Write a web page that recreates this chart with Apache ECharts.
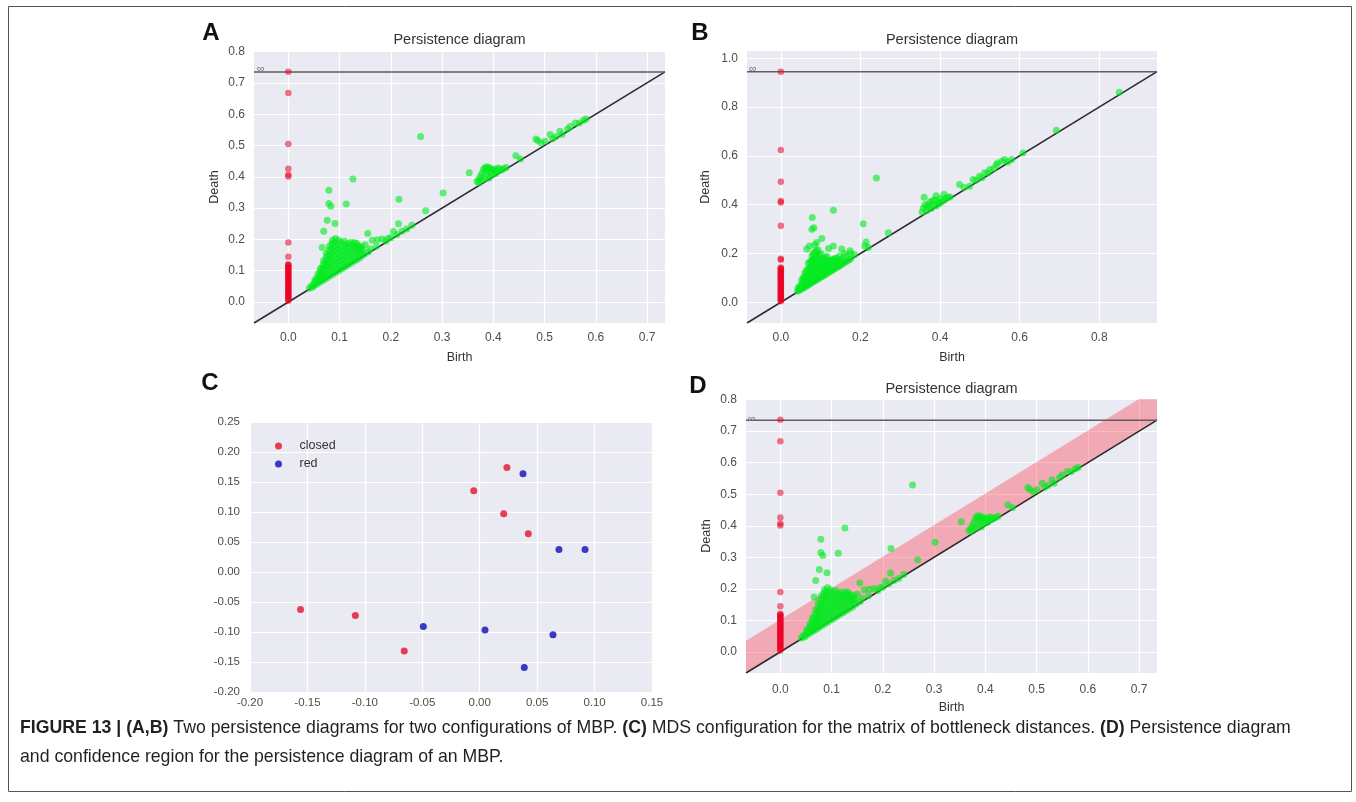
<!DOCTYPE html>
<html>
<head>
<meta charset="utf-8">
<script src="https://cdn.jsdelivr.net/npm/echarts@6/dist/echarts.min.js"></script>
<style>
html,body{margin:0;padding:0;background:#fff;}
#chart{width:1356px;height:802px;}
</style>
</head>
<body>
<div id="chart"></div>
<script>
// ---------- axis limits: [lower, upper(= infinity line), top of y] ----------
const A_limits = [-0.067, 0.735, 0.802];
const B_limits = [-0.085, 0.945, 1.03];
const D_bandWidth = 0.102;

// ---------- tick labels ----------
const A_xTicks = [0.0, 0.1, 0.2, 0.3, 0.4, 0.5, 0.6, 0.7];
const A_yTicks = [0.0, 0.1, 0.2, 0.3, 0.4, 0.5, 0.6, 0.7, 0.8];
const B_xTicks = [0.0, 0.2, 0.4, 0.6, 0.8];
const B_yTicks = [0.0, 0.2, 0.4, 0.6, 0.8, 1.0];
const C_xTicks = [-0.20, -0.15, -0.10, -0.05, 0.00, 0.05, 0.10, 0.15];
const C_yTicks = [-0.20, -0.15, -0.10, -0.05, 0.00, 0.05, 0.10, 0.15, 0.20, 0.25];

// ---------- diagram A / D (same diagram): H0 deaths (birth = 0) ----------
const A_H0 = [0.736, 0.668, 0.505, 0.426, 0.407, 0.401, 0.190, 0.145,
  0.121, 0.118, 0.115, 0.112, 0.108, 0.104, 0.101, 0.097, 0.093, 0.089, 0.086,
  0.082, 0.078, 0.075, 0.071, 0.067, 0.063, 0.060, 0.056, 0.052, 0.048, 0.045,
  0.041, 0.037, 0.033, 0.030, 0.026, 0.022, 0.019, 0.015, 0.011, 0.008, 0.004];

// H1 [birth, death]
const A_H1 = [
  [0.258,0.529],[0.126,0.393],[0.079,0.357],[0.079,0.315],[0.083,0.306],[0.113,0.313],
  [0.302,0.348],[0.216,0.328],[0.268,0.292],[0.076,0.261],[0.091,0.251],[0.069,0.226],
  [0.215,0.250],[0.205,0.225],[0.066,0.174],[0.155,0.219],[0.164,0.197],[0.174,0.199],
  [0.183,0.201],[0.144,0.177],[0.150,0.183],[0.231,0.233],[0.195,0.204],[0.160,0.170],
  [0.172,0.178],[0.190,0.195],[0.200,0.205],[0.148,0.152],[0.156,0.160],[0.212,0.216],
  [0.222,0.226],[0.241,0.245],
  [0.353,0.413],[0.444,0.467],[0.453,0.457],[0.483,0.521],[0.487,0.516],[0.501,0.514],
  [0.511,0.535],[0.516,0.522],[0.530,0.546],[0.534,0.535],[0.550,0.561],[0.560,0.572],
  [0.568,0.572],[0.576,0.581],[0.581,0.585],[0.493,0.508],[0.522,0.528],[0.545,0.553],
  [0.368,0.385],[0.372,0.392],[0.375,0.402],[0.378,0.412],[0.381,0.424],[0.384,0.430],
  [0.386,0.418],[0.389,0.405],[0.392,0.396],[0.390,0.425],[0.395,0.415],[0.398,0.407],
  [0.401,0.420],[0.404,0.410],[0.408,0.418],[0.412,0.420],[0.416,0.423],[0.420,0.426],
  [0.425,0.430],[0.378,0.390],[0.383,0.395],[0.397,0.425],[0.393,0.428],[0.388,0.432],
  [0.372,0.382],[0.410,0.428],[0.405,0.425],
  [0.041,0.044],[0.045,0.052],[0.047,0.047],
  [0.050,0.053],[0.051,0.062],[0.052,0.071],
  [0.055,0.057],[0.056,0.067],[0.057,0.079],[0.058,0.090],
  [0.060,0.062],[0.061,0.073],[0.062,0.086],[0.062,0.099],[0.063,0.108],
  [0.065,0.067],[0.066,0.079],[0.067,0.093],[0.067,0.107],[0.068,0.120],[0.069,0.133],
  [0.070,0.072],[0.071,0.085],[0.072,0.099],[0.072,0.114],[0.073,0.128],[0.074,0.142],[0.074,0.155],
  [0.075,0.077],[0.076,0.090],[0.077,0.105],[0.077,0.120],[0.078,0.135],[0.079,0.150],[0.079,0.165],[0.080,0.178],
  [0.081,0.083],[0.082,0.096],[0.082,0.111],[0.083,0.126],[0.083,0.141],[0.084,0.156],[0.085,0.171],[0.085,0.186],[0.086,0.197],
  [0.087,0.089],[0.088,0.103],[0.088,0.118],[0.089,0.133],[0.089,0.148],[0.090,0.163],[0.091,0.178],[0.090,0.192],[0.092,0.203],
  [0.093,0.095],[0.094,0.109],[0.094,0.124],[0.095,0.139],[0.096,0.154],[0.096,0.169],[0.097,0.184],[0.098,0.197],
  [0.099,0.101],[0.100,0.115],[0.100,0.130],[0.101,0.145],[0.102,0.160],[0.102,0.175],[0.103,0.190],
  [0.105,0.107],[0.106,0.121],[0.106,0.136],[0.107,0.151],[0.108,0.166],[0.109,0.181],[0.109,0.194],
  [0.111,0.113],[0.112,0.127],[0.112,0.142],[0.113,0.157],[0.114,0.172],[0.115,0.186],
  [0.117,0.119],[0.118,0.133],[0.118,0.148],[0.119,0.163],[0.120,0.178],[0.121,0.190],
  [0.123,0.125],[0.124,0.139],[0.124,0.154],[0.125,0.168],[0.126,0.182],
  [0.129,0.131],[0.130,0.145],[0.131,0.160],[0.131,0.174],[0.128,0.190],[0.133,0.188],
  [0.135,0.137],[0.136,0.151],[0.137,0.165],[0.138,0.180],[0.140,0.170],[0.134,0.178],
  [0.141,0.143],[0.142,0.156],[0.145,0.165]
];

// ---------- diagram B ----------
const B_H0 = [0.945, 0.624, 0.494, 0.415, 0.409, 0.314, 0.178, 0.174,
  0.143, 0.139, 0.135, 0.131, 0.127, 0.123, 0.118, 0.114, 0.110, 0.106, 0.101,
  0.097, 0.093, 0.089, 0.084, 0.080, 0.076, 0.072, 0.067, 0.063, 0.059, 0.055,
  0.050, 0.046, 0.042, 0.038, 0.033, 0.029, 0.025, 0.021, 0.016, 0.012, 0.008, 0.004];

const B_H1 = [
  [0.240,0.509],[0.132,0.377],[0.079,0.347],[0.078,0.299],[0.083,0.305],[0.207,0.322],
  [0.103,0.261],[0.132,0.231],[0.153,0.218],[0.174,0.211],[0.214,0.247],[0.211,0.231],
  [0.270,0.285],[0.072,0.231],[0.065,0.218],[0.085,0.235],[0.090,0.245],[0.120,0.220],
  [0.160,0.200],[0.185,0.195],[0.220,0.225],
  [0.850,0.861],[0.692,0.705],[0.608,0.612],[0.562,0.585],[0.541,0.564],[0.525,0.544],
  [0.512,0.531],[0.499,0.517],[0.483,0.503],[0.474,0.476],[0.449,0.483],[0.545,0.571],
  [0.556,0.578],[0.535,0.548],[0.520,0.530],[0.505,0.510],[0.490,0.500],[0.460,0.470],
  [0.570,0.575],[0.580,0.585],
  [0.355,0.370],[0.358,0.385],[0.360,0.430],[0.362,0.400],[0.366,0.375],[0.370,0.390],
  [0.374,0.410],[0.378,0.384],[0.382,0.400],[0.386,0.420],[0.390,0.437],[0.390,0.395],
  [0.395,0.410],[0.400,0.425],[0.404,0.412],[0.410,0.443],[0.410,0.418],[0.415,0.425],
  [0.420,0.430],[0.425,0.432],[0.368,0.398],[0.380,0.415],[0.398,0.404],
  [0.042,0.045],[0.043,0.058],
  [0.050,0.052],[0.051,0.070],[0.052,0.090],
  [0.058,0.060],[0.058,0.080],[0.059,0.100],[0.060,0.120],
  [0.066,0.068],[0.066,0.090],[0.067,0.112],[0.068,0.135],[0.069,0.160],
  [0.074,0.076],[0.074,0.098],[0.075,0.120],[0.076,0.145],[0.077,0.170],[0.078,0.190],
  [0.082,0.084],[0.082,0.105],[0.083,0.130],[0.084,0.155],[0.084,0.180],[0.085,0.205],
  [0.090,0.092],[0.090,0.113],[0.091,0.138],[0.092,0.163],[0.092,0.190],[0.093,0.215],
  [0.098,0.100],[0.098,0.120],[0.099,0.145],[0.100,0.170],[0.101,0.200],
  [0.106,0.108],[0.106,0.130],[0.107,0.155],[0.108,0.180],
  [0.114,0.116],[0.114,0.138],[0.115,0.162],[0.116,0.188],
  [0.122,0.124],[0.122,0.145],[0.123,0.170],
  [0.130,0.132],[0.130,0.152],[0.131,0.175],
  [0.138,0.140],[0.138,0.160],[0.139,0.180],
  [0.146,0.148],[0.146,0.168],[0.147,0.190],
  [0.155,0.157],[0.155,0.178],
  [0.165,0.167],[0.165,0.190],
  [0.175,0.177],[0.176,0.200],
  [0.046,0.050],[0.047,0.064],
  [0.054,0.057],[0.055,0.080],[0.056,0.100],
  [0.062,0.065],[0.062,0.085],[0.063,0.108],[0.064,0.130],
  [0.070,0.073],[0.070,0.095],[0.071,0.118],[0.072,0.142],[0.073,0.165],
  [0.078,0.081],[0.078,0.102],[0.079,0.125],[0.080,0.150],[0.081,0.175],[0.081,0.200],
  [0.086,0.089],[0.086,0.110],[0.087,0.135],[0.088,0.160],[0.088,0.185],[0.089,0.210],
  [0.094,0.097],[0.094,0.118],[0.095,0.142],[0.096,0.168],[0.097,0.195],
  [0.102,0.105],[0.102,0.126],[0.103,0.150],[0.104,0.175],
  [0.110,0.113],[0.110,0.134],[0.111,0.158],[0.112,0.182],
  [0.118,0.121],[0.118,0.142],[0.119,0.166],
  [0.126,0.129],[0.126,0.149],[0.127,0.172],
  [0.134,0.137],[0.134,0.157],[0.135,0.178],
  [0.142,0.145],[0.142,0.165],
  [0.150,0.153],[0.151,0.173],
  [0.160,0.163],[0.170,0.173]
];

// ---------- panel C: MDS configuration ----------
const C_closed = [[0.0237,0.1740],[-0.0052,0.1355],[0.0209,0.0972],[0.0423,0.0638],
  [-0.1560,-0.0623],[-0.1083,-0.0723],[-0.0657,-0.1317]];
const C_red = [[0.0377,0.1638],[0.0690,0.0377],[0.0917,0.0377],[-0.0491,-0.0907],
  [0.0046,-0.0967],[0.0638,-0.1045],[0.0388,-0.1590]];

// ---------- build ----------
const chart = echarts.init(document.getElementById('chart'));
const FONT = '"Liberation Sans", Arial, sans-serif';
const GRIDBG = '#eaeaf2';
const H0_COLOR = 'rgba(235,0,35,0.68)';
const H1_COLOR = 'rgba(0,235,30,0.75)';

function grid(l, t, w, h) {
  return {left: l, top: t, width: w, height: h, show: true, backgroundColor: GRIDBG,
    borderWidth: 0, containLabel: false, outerBoundsMode: 'none'};
}
function valAxis(idx, min, max, ticks, digits, name, isY, opts) {
  opts = opts || {};
  return {
    type: 'value', gridIndex: idx, min: min, max: max,
    name: name || '', nameLocation: 'middle', nameGap: opts.nameGap || 30,
    nameTextStyle: {color: '#333', fontSize: 12.5, fontFamily: FONT},
    axisLine: {show: false},
    axisTick: {show: false, customValues: ticks},
    axisLabel: {customValues: ticks, color: '#4d4d4d', fontSize: opts.fs || 12, fontFamily: FONT,
      margin: opts.margin || 9, formatter: v => v.toFixed(digits)},
    splitLine: {show: true, lineStyle: {color: '#ffffff', width: 1.2}}
  };
}
function diagramSeries(idx, lim, h0, h1) {
  const lo = lim[0], up = lim[1];
  return [
    {type: 'line', xAxisIndex: idx, yAxisIndex: idx, data: [[lo, lo], [up, up]], symbol: 'none',
      lineStyle: {color: '#2a2a2a', width: 1.5}, z: 3, silent: true, animation: false},
    {type: 'line', xAxisIndex: idx, yAxisIndex: idx, data: [[lo, up], [up, up]], symbol: 'none',
      lineStyle: {color: '#5e5e5e', width: 1.5}, z: 3, silent: true, animation: false},
    {type: 'scatter', name: 'H0', xAxisIndex: idx, yAxisIndex: idx, data: h0.map(d => [0, d]),
      symbolSize: 6.5, itemStyle: {color: H0_COLOR}, z: 4, animation: false},
    {type: 'scatter', name: 'H1', xAxisIndex: idx, yAxisIndex: idx, data: h1,
      symbolSize: 7, itemStyle: {color: H1_COLOR}, z: 4, animation: false}
  ];
}

const series = [].concat(
  diagramSeries(0, A_limits, A_H0, A_H1),
  diagramSeries(1, B_limits, B_H0, B_H1),
  [
    {type: 'scatter', name: 'closed', xAxisIndex: 2, yAxisIndex: 2, data: C_closed,
      symbolSize: 7, itemStyle: {color: '#e3122c'}, animation: false},
    {type: 'scatter', name: 'red', xAxisIndex: 2, yAxisIndex: 2, data: C_red,
      symbolSize: 7, itemStyle: {color: '#0c0cb8'}, animation: false}
  ],
  [{
    type: 'custom', xAxisIndex: 3, yAxisIndex: 3, data: [[0]], z: 2, silent: true, clip: true,
    animation: false,
    renderItem: function (params, api) {
      const lo = A_limits[0], up = A_limits[1], top = A_limits[2], w = D_bandWidth;
      const pts = [[lo, lo], [up, up], [up, top], [top - w, top], [lo, lo + w]].map(p => api.coord(p));
      return {type: 'polygon', shape: {points: pts}, style: {fill: 'rgba(255,20,40,0.30)'}};
    }
  }],
  diagramSeries(3, A_limits, A_H0, A_H1)
);

function txt(x, y, text, size, opts) {
  opts = opts || {};
  return {type: 'text', silent: true, z: 100, rotation: opts.rot || 0, x: x, y: y,
    style: {x: 0, y: 0, text: text, fill: opts.color || '#333',
      font: (opts.weight || 'normal') + ' ' + size + 'px ' + FONT,
      align: opts.align || 'center', verticalAlign: 'middle',
      textAlign: opts.align || 'center', textVerticalAlign: 'middle', rich: opts.rich}};
}
const CAP = 17.7;
const capRich = {
  b: {fontWeight: 'bold', fontSize: CAP, fontFamily: FONT, fill: '#231f20', color: '#231f20'},
  r: {fontWeight: 'normal', fontSize: CAP, fontFamily: FONT, fill: '#231f20', color: '#231f20'}
};

const option = {
  backgroundColor: '#ffffff',
  animation: false,
  grid: [grid(254, 51, 411, 272), grid(747, 51, 410, 272), grid(250, 422, 402, 270), grid(746, 399, 411, 274)],
  xAxis: [
    valAxis(0, A_limits[0], A_limits[1], A_xTicks, 1, 'Birth', false, {nameGap: 28}),
    valAxis(1, B_limits[0], B_limits[1], B_xTicks, 1, 'Birth', false, {nameGap: 28}),
    valAxis(2, -0.20, 0.15, C_xTicks, 2, '', false, {margin: 5, fs: 11.5}),
    valAxis(3, A_limits[0], A_limits[1], A_xTicks, 1, 'Birth', false, {nameGap: 28, margin: 11})
  ],
  yAxis: [
    valAxis(0, A_limits[0], A_limits[2], A_yTicks, 1, 'Death', true, {nameGap: 33}),
    valAxis(1, B_limits[0], B_limits[2], B_yTicks, 1, 'Death', true, {nameGap: 35}),
    valAxis(2, -0.20, 0.25, C_yTicks, 2, '', true, {margin: 10, fs: 11.5}),
    valAxis(3, A_limits[0], A_limits[2], A_yTicks, 1, 'Death', true, {nameGap: 33})
  ],
  legend: {
    data: ['closed', 'red'], orient: 'vertical', left: 270, top: 434,
    icon: 'circle', itemWidth: 32, itemHeight: 7, itemGap: 4,
    textStyle: {color: '#333', fontSize: 12.5, fontFamily: FONT, lineHeight: 14}
  },
  series: series,
  graphic: [
    {type: 'rect', silent: true, z: 100, shape: {x: 8.5, y: 6.5, width: 1343, height: 785},
      style: {fill: 'none', stroke: '#555', lineWidth: 1}},
    txt(211, 33, 'A', 24, {weight: 'bold', color: '#111'}),
    txt(700, 33, 'B', 24, {weight: 'bold', color: '#111'}),
    txt(210, 383, 'C', 24, {weight: 'bold', color: '#111'}),
    txt(698, 386, 'D', 24, {weight: 'bold', color: '#111'}),
    txt(459.5, 40, 'Persistence diagram', 14.5),
    txt(952, 40, 'Persistence diagram', 14.5),
    txt(951.5, 389, 'Persistence diagram', 14.5),
    txt(261, 69, '\u221e', 11, {color: '#777'}),
    txt(753, 69, '\u221e', 11, {color: '#777'}),
    txt(752, 419, '\u221e', 11, {color: '#777'}),
    txt(20, 728, '{b|FIGURE 13 | (A,B)}{r| Two persistence diagrams for two configurations of MBP. }{b|(C)}{r| MDS configuration for the matrix of bottleneck distances. }{b|(D)}{r| Persistence diagram}', CAP, {align: 'left', rich: capRich}),
    txt(20, 757, '{r|and confidence region for the persistence diagram of an MBP.}', CAP, {align: 'left', rich: capRich})
  ]
};
chart.setOption(option);
</script>
</body>
</html>
